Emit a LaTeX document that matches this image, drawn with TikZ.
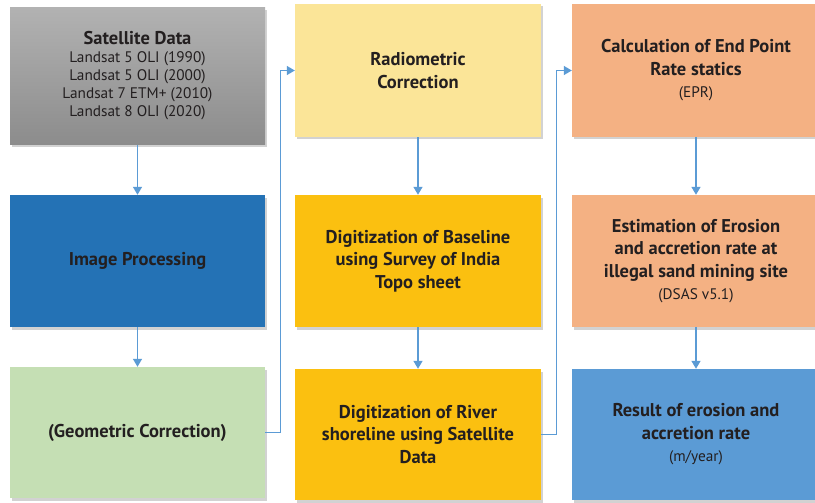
\documentclass[tikz,border=0pt]{standalone}
\usepackage{fontspec}
\setmainfont{PT Sans}
\usetikzlibrary{shadows,arrows.meta,positioning}
\definecolor{txt}{HTML}{231F20}
\definecolor{arrowc}{HTML}{5B9BD5}
\definecolor{cblue}{HTML}{2472B5}
\definecolor{cgreen}{HTML}{C5DFB4}
\definecolor{cpale}{HTML}{FBE598}
\definecolor{cgold}{HTML}{FBC010}
\definecolor{cpeach}{HTML}{F4B183}
\definecolor{clblue}{HTML}{5B9BD5}
\definecolor{gtop}{HTML}{B2B2B2}
\definecolor{gbot}{HTML}{8C8C8C}
\newcommand{\subtxt}[1]{{\fontsize{15.3}{19}\selectfont\mdseries #1}}
\tikzset{
  box/.style={rectangle, inner sep=4pt, align=center, text=txt,
    font=\fontsize{18.5}{22.5}\selectfont\bfseries,
    drop shadow={opacity=0.35, shadow xshift=1.5pt, shadow yshift=-2.5pt}},
  arr/.style={draw=arrowc, line width=1.4pt, -{Triangle[width=9pt,length=8pt]}}
}
\begin{document}
\begin{tikzpicture}[x=1pt,y=-1pt]
\useasboundingbox (0,0) rectangle (815,503);
\clip (0,0) rectangle (815,503);
\fill[white] (0,0) rectangle (815,503);
% column 1
\node[box, top color=gtop, bottom color=gbot, minimum width=255pt, minimum height=137pt] (sat) at (137.5,76)
  {Satellite Data\\[-4.5pt] \subtxt{Landsat 5 OLI (1990)}\\[-4.5pt]
   \subtxt{Landsat 5 OLI (2000)}\\[-4.5pt]
   \subtxt{Landsat 7 ETM+ (2010)}\\[-4.5pt]
   \subtxt{Landsat 8 OLI (2020)}};
\node[box, fill=cblue, minimum width=255pt, minimum height=132pt] (img) at (137.5,261) {Image Processing};
\node[box, fill=cgreen, minimum width=255pt, minimum height=131pt] (geo) at (137.5,432.5) {(Geometric Correction)};
% column 2
\node[box, fill=cpale, minimum width=246pt, minimum height=133pt] (rad) at (418,70.5) {Radiometric\\Correction};
\node[box, fill=cgold, minimum width=246pt, minimum height=132pt] (base) at (418,261) {Digitization of Baseline\\using Survey of India\\Topo sheet};
\node[box, fill=cgold, minimum width=246pt, minimum height=131pt] (river) at (418,434.5) {Digitization of River\\shoreline using Satellite\\Data};
% column 3
\node[box, fill=cpeach, minimum width=248pt, minimum height=133pt] (epr) at (696,70.5) {Calculation of End Point\\Rate statics\\\subtxt{(EPR)}};
\node[box, fill=cpeach, minimum width=248pt, minimum height=132pt] (est) at (696,261) {Estimation of Erosion\\and accretion rate at\\illegal sand mining site\\\subtxt{(DSAS v5.1)}};
\node[box, fill=clblue, minimum width=248pt, minimum height=131pt] (res) at (696,434.5) {Result of erosion and\\accretion rate\\\subtxt{(m/year)}};
% connectors
\draw[arr] (sat) -- (img);
\draw[arr] (img) -- (geo);
\draw[arr] (rad) -- (base);
\draw[arr] (base) -- (river);
\draw[arr] (epr) -- (est);
\draw[arr] (est) -- (res);
\draw[arr] (geo.east) -- ++(15,0) |- (rad.west);
\draw[arr] (river.east) -- ++(15,0) |- (epr.west);
\end{tikzpicture}
\end{document}
